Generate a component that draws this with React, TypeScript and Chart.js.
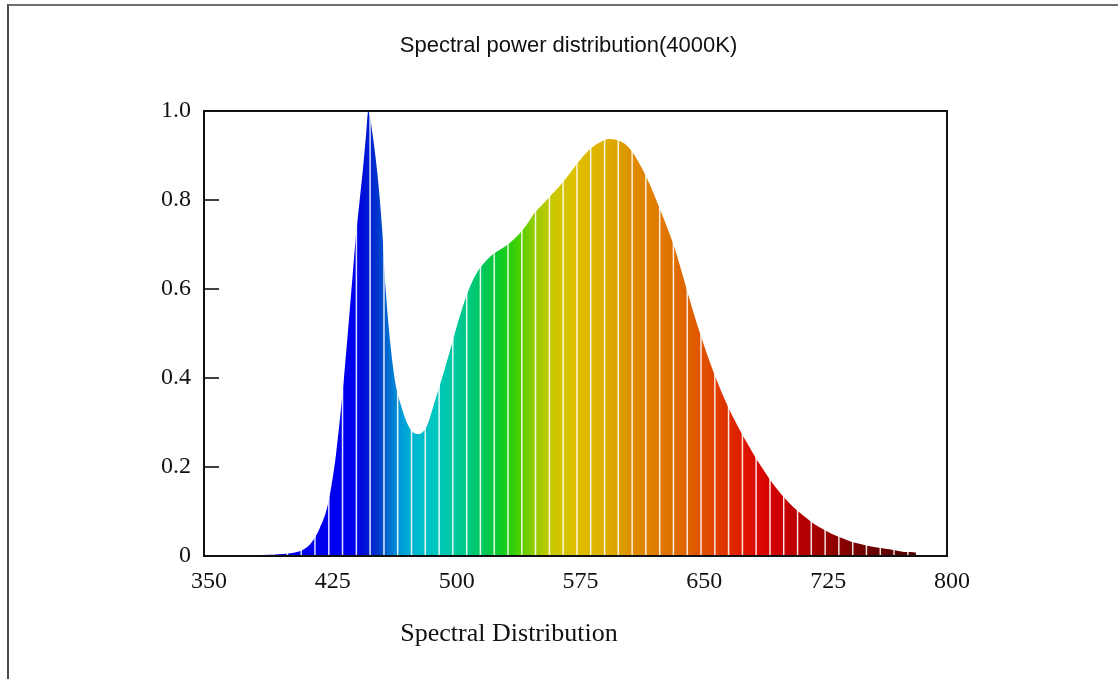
import React, { useEffect, useRef } from "react";
import { Chart, registerables } from "chart.js";

Chart.register(...registerables);

const TITLE = "Spectral power distribution(4000K)";
const X_TITLE = "Spectral Distribution";

const wavelengths = [
  350, 360, 370, 375, 380, 390, 395, 400, 405, 410, 415, 420, 425, 430, 435, 440, 442, 444, 446, 448, 449.5, 452, 455, 458,
  460, 465, 470, 475, 480, 485, 490, 495, 500, 505, 510, 515, 520, 525, 530, 535, 540, 545, 550, 555, 560,
  565, 570, 575, 580, 585, 590, 595, 600, 605, 610, 615, 620, 625, 630, 635, 640, 645, 650, 655, 660, 665,
  670, 675, 680, 685, 690, 695, 700, 705, 710, 715, 720, 725, 730, 735, 740, 745, 750, 755, 760, 765, 770,
  775, 781, 781.5,
];
const power = [
  0, 0, 0, 0, 0.002, 0.003, 0.004, 0.005, 0.008, 0.014, 0.03, 0.062, 0.115, 0.23, 0.41, 0.63, 0.72, 0.79, 0.86, 0.94, 1.0, 0.95, 0.86, 0.73,
  0.6, 0.41, 0.33, 0.285, 0.274, 0.292, 0.35, 0.41, 0.475, 0.54, 0.595, 0.635, 0.66, 0.678, 0.69, 0.703, 0.72, 0.742, 0.77, 0.79, 0.81,
  0.83, 0.852, 0.877, 0.9, 0.918, 0.93, 0.937, 0.935, 0.926, 0.905, 0.873, 0.835, 0.79, 0.743, 0.692, 0.63, 0.565, 0.505, 0.45, 0.4, 0.355,
  0.315, 0.28, 0.247, 0.215, 0.187, 0.16, 0.137, 0.117, 0.1, 0.085, 0.071, 0.06, 0.05, 0.042, 0.035, 0.029, 0.025, 0.021, 0.018, 0.015, 0.012,
  0.009, 0.008, 0,
];

const xTicks = [350, 425, 500, 575, 650, 725, 800];
const yTicks = [0, 0.2, 0.4, 0.6, 0.8, 1.0];
const yTickLabels = ["0", "0.2", "0.4", "0.6", "0.8", "1.0"];

const bandEdges = [
  392.2, 400.5, 408.9, 417.2, 425.6, 433.9, 442.3, 450.6, 459.0, 467.3, 475.7, 484.0, 492.4, 500.7, 509.1, 517.4, 525.8,
  534.1, 542.5, 550.8, 559.2, 567.5, 575.9, 584.2, 592.6, 600.9, 609.3, 617.6, 626.0, 634.3, 642.7, 651.0,
  659.4, 667.7, 676.1, 684.4, 692.8, 701.1, 709.5, 717.8, 726.2, 734.5, 742.9, 751.2, 759.6, 767.9, 776.3,
];

const colorStopWavelengths = [
  375, 440, 447, 455, 462, 470, 480, 490, 500, 510, 520, 530, 540, 550, 560, 575, 590, 600, 610, 625, 640,
  655, 670, 685, 700, 715, 735, 755, 782,
];
const colorStopColors = [
  "#0000f0", "#0000f0", "#0010d8", "#0034cc", "#0070d0", "#00a0d8", "#00bcd0", "#00c6c0", "#00c8a4", "#00c882",
  "#00c858", "#10cc24", "#44d000", "#94cc00", "#c8c800", "#dec000", "#e0b200", "#dca400", "#e08c00", "#e07a00",
  "#e06800", "#e04c00", "#e02800", "#dc0800", "#c80000", "#b00000", "#8a0000", "#680000", "#500000",
];

export default function App() {
  const ref = useRef<HTMLCanvasElement>(null);

  useEffect(() => {
    const canvas = ref.current;
    if (!canvas) return;

    const spectrumFill = (context: any) => {
      const chart = context.chart;
      const area = chart.chartArea;
      const xs = chart.scales && chart.scales.x;
      if (!area || !xs) return "#0000f0";
      const first = colorStopWavelengths[0];
      const last = colorStopWavelengths[colorStopWavelengths.length - 1];
      const x0 = xs.getPixelForValue(first);
      const x1 = xs.getPixelForValue(last);
      const g = chart.ctx.createLinearGradient(x0, 0, x1, 0);
      colorStopWavelengths.forEach((w, i) => {
        const off = (xs.getPixelForValue(w) - x0) / (x1 - x0);
        g.addColorStop(Math.min(1, Math.max(0, off)), colorStopColors[i]);
      });
      return g;
    };

    const decor = {
      id: "decor",
      afterDatasetsDraw(chart: any) {
        const { ctx, chartArea: a, scales } = chart;
        const xs = scales.x;
        ctx.save();
        ctx.beginPath();
        ctx.rect(a.left, a.top, a.right - a.left, a.bottom - a.top);
        ctx.clip();
        ctx.strokeStyle = "rgba(255,255,255,0.88)";
        ctx.lineWidth = 1.5;
        bandEdges.forEach((e) => {
          const px = xs.getPixelForValue(e);
          ctx.beginPath();
          ctx.moveTo(px, a.bottom);
          ctx.lineTo(px, a.top);
          ctx.stroke();
        });
        ctx.restore();
      },
      afterDraw(chart: any) {
        const { ctx, chartArea: a, scales } = chart;
        const ys = scales.y;
        ctx.save();
        ctx.strokeStyle = "#111";
        ctx.lineWidth = 2;
        ctx.strokeRect(a.left, a.top, a.right - a.left, a.bottom - a.top);
        ctx.lineWidth = 1.6;
        yTicks.forEach((v) => {
          if (v <= 0 || v >= 1) return;
          const py = ys.getPixelForValue(v);
          ctx.beginPath();
          ctx.moveTo(a.left, py);
          ctx.lineTo(a.left + 15, py);
          ctx.stroke();
        });
        const w = a.right - a.left;
        ctx.fillStyle = "#111";
        ctx.textAlign = "center";
        ctx.textBaseline = "alphabetic";
        ctx.font = '22px "Liberation Sans"';
        ctx.fillText(TITLE, a.left + w * 0.4906, a.top - 59);
        ctx.font = '26px "Liberation Serif"';
        ctx.fillText(X_TITLE, a.left + w * 0.4105, a.bottom + 85);
        ctx.restore();
      },
    };

    const chart = new Chart(canvas, {
      type: "line",
      data: {
        datasets: [
          {
            data: wavelengths.map((w, i) => ({ x: w, y: power[i] })),
            fill: "origin",
            borderWidth: 0,
            borderColor: "rgba(0,0,0,0)",
            pointRadius: 0,
            cubicInterpolationMode: "monotone",
            backgroundColor: spectrumFill,
          } as any,
        ],
      },
      options: {
        animation: false,
        responsive: false,
        layout: { padding: { left: 114, right: 171, top: 111, bottom: 63 } },
        plugins: {
          legend: { display: false },
          title: { display: false },
          tooltip: { enabled: false },
        },
        scales: {
          x: {
            type: "linear",
            min: 350,
            max: 800,
            grid: { display: false, drawTicks: false },
            border: { display: false },
            afterBuildTicks: (s: any) => {
              s.ticks = xTicks.map((v) => ({ value: v }));
            },
            afterFit: (s: any) => {
              s.height = 60;
            },
            ticks: {
              font: { family: "Liberation Serif", size: 24 },
              color: "#111",
              padding: 11,
              labelOffset: 5,
              maxRotation: 0,
              autoSkip: false,
            },
          },
          y: {
            type: "linear",
            min: 0,
            max: 1,
            grid: { display: false, drawTicks: false },
            border: { display: false },
            afterBuildTicks: (s: any) => {
              s.ticks = yTicks.map((v) => ({ value: v }));
            },
            afterFit: (s: any) => {
              s.width = 90;
            },
            ticks: {
              font: { family: "Liberation Serif", size: 24 },
              color: "#111",
              padding: 13,
              autoSkip: false,
              callback: (v: any) => {
                const i = yTicks.indexOf(Number(v));
                return i >= 0 ? yTickLabels[i] : "";
              },
            },
          },
        },
      } as any,
      plugins: [decor],
    });

    return () => chart.destroy();
  }, []);

  return (
    <>
      <div
        style={{
          position: "fixed",
          left: 7,
          top: 4,
          width: 1300,
          height: 900,
          borderTop: "2px solid #707070",
          borderLeft: "2px solid #4a4a4a",
          pointerEvents: "none",
        }}
      />
      <canvas
        ref={ref}
        width={1118}
        height={679}
        style={{ position: "fixed", left: 0, top: 0, width: 1118, height: 679 }}
      />
    </>
  );
}
